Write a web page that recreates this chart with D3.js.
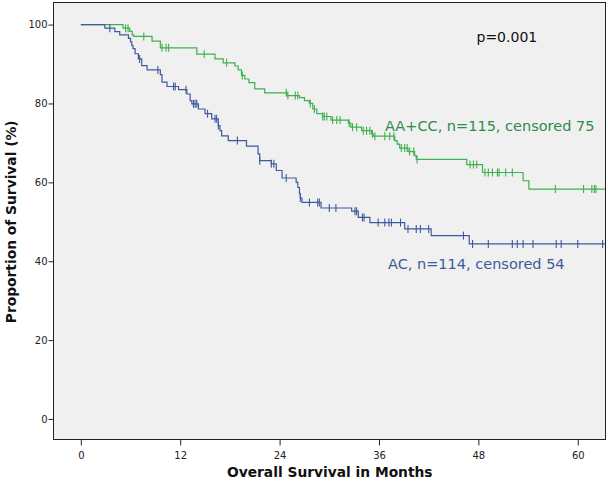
<!DOCTYPE html>
<html>
<head>
<meta charset="utf-8">
<script src="https://cdn.jsdelivr.net/npm/d3@7"></script>
<style>
  html, body { margin: 0; padding: 0; background: #ffffff; }
  svg { display: block; }
</style>
</head>
<body>
<svg id="chart" width="608" height="483"></svg>
<script>
// ---------- DATA ----------
const xTicks = [0, 12, 24, 36, 48, 60];
const yTicks = [0, 20, 40, 60, 80, 100];

// AA+CC group (green): step drop times (months) and survival (%) after each drop
const greenTimes  = [5.1, 5.9, 6.2, 6.4, 8.6, 9.6, 14.0, 16.2, 17.2, 18.6, 19.0, 19.4, 19.8, 20.3, 21.0, 22.2, 24.9, 26.4, 27.0, 27.6, 28.0, 28.5, 29.2, 30.2, 32.3, 32.6, 33.9, 35.1, 35.3, 37.9, 38.2, 38.5, 39.5, 40.3, 40.5, 46.6, 48.5, 53.4, 54.1];
const greenValues = [99.1, 98.3, 97.4, 97.0, 95.8, 94.1, 92.5, 91.3, 90.3, 89.5, 88.5, 87.1, 86.2, 85.3, 83.7, 82.7, 82.0, 81.5, 80.7, 80.0, 78.6, 77.4, 76.7, 75.8, 75.0, 74.0, 73.1, 72.3, 71.7, 70.6, 69.7, 68.7, 67.8, 66.8, 65.8, 64.5, 62.5, 60.4, 58.3];
const greenCensor = [5.4, 5.7, 7.6, 9.8, 10.3, 10.6, 14.9, 17.6, 19.5, 24.8, 25.0, 25.9, 26.2, 27.7, 28.2, 29.2, 29.4, 29.7, 30.4, 30.9, 31.3, 32.4, 32.8, 33.3, 34.1, 34.5, 34.9, 35.2, 35.5, 36.7, 37.3, 37.8, 38.7, 39.1, 39.4, 39.7, 40.2, 40.6, 47.0, 47.4, 47.8, 48.8, 49.2, 49.7, 50.3, 50.5, 51.3, 52.1, 57.3, 60.7, 61.7, 62.0, 62.2];
const greenEnd = 63.3;

// AC group (blue)
const blueTimes  = [2.9, 4.1, 4.7, 5.75, 6.0, 6.15, 6.3, 6.55, 6.95, 7.35, 8.0, 9.6, 9.8, 10.4, 11.8, 12.8, 13.2, 13.4, 14.2, 15.0, 15.8, 16.6, 16.8, 17.0, 17.8, 20.0, 21.4, 21.6, 23.0, 23.6, 24.3, 26.0, 26.2, 26.4, 26.5, 26.7, 29.0, 32.7, 33.5, 34.9, 39.1, 42.3, 46.9];
const blueValues = [99.1, 98.2, 97.4, 96.5, 95.6, 94.7, 93.9, 92.6, 91.3, 89.6, 88.5, 87.3, 85.4, 84.3, 83.5, 82.4, 80.7, 79.9, 78.6, 77.4, 76.1, 74.4, 73.1, 71.8, 70.6, 69.2, 67.2, 65.5, 64.7, 63.0, 61.1, 60.0, 58.7, 57.2, 56.0, 54.9, 53.5, 52.7, 51.1, 49.8, 48.2, 46.5, 44.4];
const blueCensor = [3.5, 7.1, 9.3, 11.2, 11.4, 12.7, 13.6, 13.8, 14.0, 15.3, 16.2, 16.4, 16.6, 18.9, 21.6, 23.0, 23.3, 24.8, 26.5, 27.6, 28.6, 28.8, 30.0, 30.8, 33.1, 33.3, 34.0, 34.2, 35.9, 36.7, 37.2, 37.5, 38.6, 39.5, 40.5, 41.0, 42.0, 46.2, 47.3, 49.2, 52.1, 52.7, 53.4, 54.6, 57.4, 58.0, 60.0, 63.0];
const blueEnd = 63.3;

const labels = ["AA+CC, n=115, censored 75", "AC, n=114, censored 54"];
const pText = "p=0.001";

// ---------- LAYOUT ----------
const svg = d3.select("#chart");
const plot = { left: 53.5, right: 605.5, top: 2.5, bottom: 439.5 };
const x = d3.scaleLinear().domain([-3.3, 63.35]).range([plot.left, plot.right]);
const y = d3.scaleLinear().domain([-5.2, 105.6]).range([plot.bottom, plot.top]);

const GREEN = "#3fb04f";
const BLUE = "#3f5a9c";
const GREEN_TXT = "#2f8a4a";
const BLUE_TXT = "#3c5a99";

svg.append("rect")
  .attr("x", plot.left).attr("y", plot.top)
  .attr("width", plot.right - plot.left).attr("height", plot.bottom - plot.top)
  .attr("fill", "#f0f0f0").attr("stroke", "#222").attr("stroke-width", 1);

// axes
const xAxis = d3.axisBottom(x).tickValues(xTicks).tickSize(6).tickSizeOuter(0);
const gx = svg.append("g").attr("transform", `translate(0,${plot.bottom})`).call(xAxis);
gx.select(".domain").remove();
gx.selectAll("text").attr("font-family", "DejaVu Sans").attr("font-size", 10).attr("fill", "#222").attr("dy", "1.0em");
gx.selectAll("line").attr("stroke", "#222");

const yAxis = d3.axisLeft(y).tickValues(yTicks).tickSize(5).tickSizeOuter(0);
const gy = svg.append("g").attr("transform", `translate(${plot.left},0)`).call(yAxis);
gy.select(".domain").remove();
gy.selectAll("text").attr("font-family", "DejaVu Sans").attr("font-size", 10).attr("fill", "#222").attr("x", -6);
gy.selectAll("line").attr("stroke", "#222");

// axis titles
svg.append("text")
  .attr("x", (x(0) + x(60)) / 2 + 0.5).attr("y", 477)
  .attr("text-anchor", "middle")
  .attr("font-family", "DejaVu Sans").attr("font-weight", "bold").attr("font-size", 13.8)
  .attr("fill", "#111").text("Overall Survival in Months");

svg.append("text")
  .attr("transform", `translate(16,${(y(0) + y(100)) / 2}) rotate(-90)`)
  .attr("text-anchor", "middle")
  .attr("font-family", "DejaVu Sans").attr("font-weight", "bold").attr("font-size", 13.8)
  .attr("fill", "#111").text("Proportion of Survival (%)");

// survival curves
function buildSeries(times, values, end) {
  const pts = [[0, 100]];
  times.forEach((t, i) => pts.push([t, values[i]]));
  pts.push([end, values[values.length - 1]]);
  return pts;
}
function survAt(times, values, t) {
  let s = 100;
  for (let i = 0; i < times.length; i++) { if (times[i] <= t) s = values[i]; }
  return s;
}
const line = d3.line().x(d => x(d[0])).y(d => y(d[1])).curve(d3.curveStepAfter);

const groups = [
  { times: greenTimes, values: greenValues, censor: greenCensor, end: greenEnd, color: GREEN },
  { times: blueTimes, values: blueValues, censor: blueCensor, end: blueEnd, color: BLUE }
];

groups.forEach(g => {
  svg.append("path")
    .datum(buildSeries(g.times, g.values, g.end))
    .attr("d", line)
    .attr("fill", "none").attr("stroke", g.color).attr("stroke-width", 1.2);
  svg.append("g").selectAll("line")
    .data(g.censor)
    .join("line")
    .attr("x1", d => x(d)).attr("x2", d => x(d))
    .attr("y1", d => y(survAt(g.times, g.values, d)) - 4)
    .attr("y2", d => y(survAt(g.times, g.values, d)) + 4)
    .attr("stroke", g.color).attr("stroke-width", 1.1);
});

// annotations
svg.append("text").attr("x", 476.5).attr("y", 42)
  .attr("font-family", "DejaVu Sans").attr("font-size", 14).attr("fill", "#111").text(pText);
svg.append("text").attr("x", 385).attr("y", 131)
  .attr("font-family", "DejaVu Sans").attr("font-size", 14.5).attr("fill", GREEN_TXT).text(labels[0]);
svg.append("text").attr("x", 388).attr("y", 269)
  .attr("font-family", "DejaVu Sans").attr("font-size", 14.5).attr("fill", BLUE_TXT).text(labels[1]);
</script>
</body>
</html>
